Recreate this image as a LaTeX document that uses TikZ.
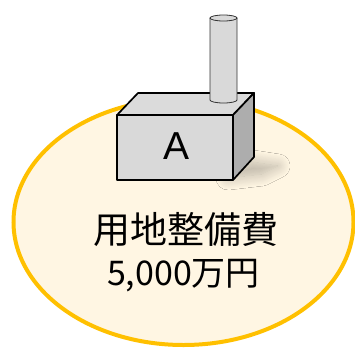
\documentclass[tikz,border=0pt]{standalone}
\usepackage{fontspec}
\setmainfont{Liberation Sans}
\newfontfamily\jpfont{Noto Sans CJK JP}
\usetikzlibrary{shadows.blur}
\definecolor{gold}{HTML}{FFC000}
\definecolor{cream}{HTML}{FFF6E3}
\definecolor{lightgr}{HTML}{D9D9D9}
\definecolor{darkgr}{HTML}{ADADAD}
\tikzstyle{face}=[draw=black, line width=1.7pt, line join=round]
\tikzstyle{pipe}=[draw=black!80, line width=0.8pt, fill=lightgr]
\tikzstyle{label}=[inner sep=0pt, text=black]

\begin{document}
\begin{tikzpicture}[x=1pt, y=-1pt]
	\useasboundingbox (0,0) rectangle (355,348);
	% site area
	\draw[gold, line width=4pt, fill=cream] (183.5,222) ellipse [x radius=170, y radius=123];
	% building shadow on the ground
	\path[blur shadow={shadow xshift=0pt, shadow yshift=0pt, shadow opacity=28, shadow blur radius=12pt, shadow blur steps=16}]
		(228,170) -- (252,162) -- (278,166) -- (262,174) -- (228,178) -- cycle;
	% building
	\draw[face, fill=lightgr] (117,115) rectangle (233,180);
	\draw[face, fill=lightgr!95!white] (117,115) -- (138,93) -- (254,93) -- (233,115) -- cycle;
	\draw[face, fill=darkgr] (233,115) -- (254,93) -- (254,157) -- (233,180) -- cycle;
	% chimney
	\fill[lightgr] (210,18) rectangle (237,100);
	\draw[pipe] (210,18) -- (210,100) arc[start angle=180, end angle=360, x radius=13.5, y radius=-3] -- (237,18);
	\draw[pipe] (223.5,18) ellipse [x radius=13.5, y radius=3];
	% texts
	\node[label, font=\fontsize{39}{39}\selectfont] (bldg) at (177,146) {A};
	\node[label, font=\jpfont\fontsize{37}{37}\selectfont] (item) at (186,230) {用地整備費};
	\node[label, font=\jpfont\fontsize{34}{34}\selectfont] (cost) at (183.5,276) {5,000万円};
\end{tikzpicture}
\end{document}
